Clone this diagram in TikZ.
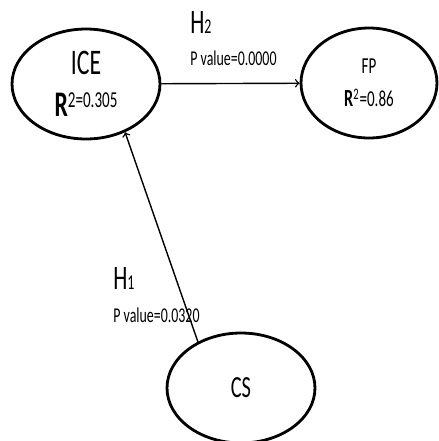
\documentclass[tikz,border=0pt]{standalone}
\usepackage{fontspec}
\setmainfont{Carlito}[FakeStretch=0.66]
\usetikzlibrary{arrows, shapes.geometric, positioning}

\begin{document}
\begin{tikzpicture}[x=0.02cm, y=-0.02cm,
    latent/.style={ellipse, draw, line width=1.6pt, inner sep=0pt, minimum width=2.96cm, minimum height=2.2cm, align=center},
    path/.style={->, line width=0.8pt},
    hyp/.style={anchor=base west, inner sep=0pt}]
    \useasboundingbox (0,0) rectangle (439,441);
    \node[latent, font=\fontsize{20.5}{24}\selectfont] (ice) at (86,84) {ICE\\ \textbf{R}\raisebox{5pt}{\fontsize{13}{14}\selectfont 2=0.305}};
    \node[latent, minimum width=2.72cm, font=\fontsize{13}{19}\selectfont] (fp) at (369,83) {FP\\ {\fontsize{14}{14}\selectfont\textbf{R}}\textsuperscript{2}=0.86};
    \node[latent, font=\fontsize{17.5}{18}\selectfont] (cs) at (241,388) {CS};
    \draw[path] (ice) -- (fp);
    \draw[path] (cs.133) -- (ice.-51);
    \node[hyp] (h2) at (190,33) {{\fontsize{19.5}{20}\selectfont H}{\fontsize{12}{12}\selectfont 2}};
    \node[hyp, font=\fontsize{12}{12}\selectfont] (p2) at (190,65) {P value=0.0000};
    \node[hyp] (h1) at (113,289) {{\fontsize{19.5}{20}\selectfont H}{\fontsize{12}{12}\selectfont 1}};
    \node[hyp, font=\fontsize{12}{12}\selectfont] (p1) at (113,322) {P value=0.0320};
  \end{tikzpicture}
\end{document}
